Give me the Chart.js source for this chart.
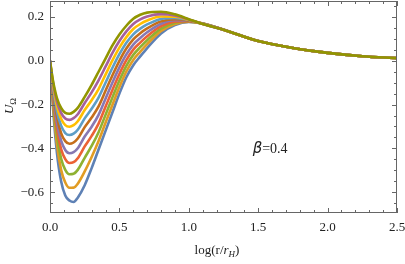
<html>
<script src="https://cdn.jsdelivr.net/npm/chart.js"></script>
<body style="margin:0;">
    <canvas id="myChart" width="405" height="264"></canvas>
</body>
<script>
    // x positions, log(r/r_H)
    var xs = [0, 0.02, 0.05, 0.08, 0.11, 0.14, 0.17, 0.2, 0.25, 0.3, 0.35, 0.4, 0.45, 0.5, 0.55, 0.6, 0.65, 0.7, 0.8, 0.9, 1.0, 1.1, 1.25, 1.5, 1.75, 2.0, 2.25, 2.5];

    // U_Omega curves, deepest well first
    var curve1 = [0, -0.2, -0.42, -0.55, -0.615, -0.638, -0.645, -0.625, -0.568, -0.49, -0.405, -0.32, -0.235, -0.15, -0.075, -0.02, 0.02, 0.058, 0.125, 0.163, 0.177, 0.17, 0.142, 0.09, 0.058, 0.036, 0.021, 0.012];
    var curve2 = [0, -0.182, -0.381, -0.498, -0.556, -0.58, -0.579, -0.561, -0.505, -0.439, -0.366, -0.283, -0.201, -0.12, -0.049, 0.004, 0.041, 0.076, 0.136, 0.168, 0.178, 0.17, 0.142, 0.09, 0.058, 0.036, 0.021, 0.012];
    var curve3 = [0, -0.164, -0.342, -0.446, -0.498, -0.518, -0.516, -0.498, -0.443, -0.389, -0.326, -0.247, -0.167, -0.09, -0.023, 0.027, 0.062, 0.094, 0.147, 0.174, 0.18, 0.17, 0.142, 0.09, 0.058, 0.036, 0.021, 0.012];
    var curve4 = [0, -0.15, -0.31, -0.403, -0.449, -0.467, -0.463, -0.445, -0.391, -0.343, -0.287, -0.21, -0.133, -0.06, 0.003, 0.051, 0.083, 0.112, 0.158, 0.179, 0.181, 0.17, 0.142, 0.09, 0.058, 0.036, 0.021, 0.012];
    var curve5 = [0, -0.137, -0.282, -0.365, -0.407, -0.422, -0.417, -0.399, -0.346, -0.301, -0.247, -0.173, -0.099, -0.03, 0.029, 0.074, 0.104, 0.13, 0.169, 0.185, 0.183, 0.169, 0.142, 0.09, 0.058, 0.036, 0.021, 0.012];
    var curve6 = [0, -0.124, -0.255, -0.33, -0.367, -0.379, -0.373, -0.355, -0.303, -0.259, -0.208, -0.137, -0.066, 0.0, 0.056, 0.098, 0.126, 0.148, 0.18, 0.19, 0.184, 0.169, 0.142, 0.09, 0.058, 0.036, 0.021, 0.012];
    var curve7 = [0, -0.113, -0.231, -0.296, -0.33, -0.339, -0.333, -0.315, -0.263, -0.219, -0.168, -0.1, -0.032, 0.03, 0.082, 0.121, 0.147, 0.166, 0.191, 0.196, 0.186, 0.169, 0.142, 0.09, 0.058, 0.036, 0.021, 0.012];
    var curve8 = [0, -0.102, -0.207, -0.265, -0.294, -0.301, -0.294, -0.276, -0.225, -0.18, -0.129, -0.063, 0.002, 0.06, 0.108, 0.145, 0.168, 0.184, 0.202, 0.201, 0.187, 0.168, 0.142, 0.09, 0.058, 0.036, 0.021, 0.012];
    var curve9 = [0, -0.093, -0.187, -0.238, -0.264, -0.27, -0.262, -0.244, -0.193, -0.144, -0.089, -0.027, 0.036, 0.09, 0.134, 0.168, 0.189, 0.202, 0.213, 0.207, 0.189, 0.168, 0.142, 0.09, 0.058, 0.036, 0.021, 0.012];
    var curve10 = [0, -0.085, -0.17, -0.215, -0.238, -0.242, -0.233, -0.215, -0.165, -0.11, -0.05, 0.01, 0.07, 0.12, 0.16, 0.192, 0.21, 0.22, 0.224, 0.212, 0.19, 0.168, 0.142, 0.09, 0.058, 0.036, 0.021, 0.012];

    var xTicks = [0, 0.5, 1.0, 1.5, 2.0, 2.5];
    var yTicks = [-0.6, -0.4, -0.2, 0.0, 0.2];

    var curves = [curve1, curve2, curve3, curve4, curve5, curve6, curve7, curve8, curve9, curve10];
    var colors = ["#5E81B5", "#E19C24", "#8FB131", "#EB6235", "#8778B3", "#C56E1A", "#5D9EC7", "#FFBF00", "#A5609D", "#929600"];

    var serif = "'Liberation Serif', 'DejaVu Serif', serif";

    var datasets = [];
    for (var i = 0; i < curves.length; i++) {
        datasets.push({
            data: xs.map(function (x, j) { return { x: x, y: curves[i][j] }; }),
            borderColor: colors[i],
            borderWidth: 2.6,
            pointRadius: 0,
            fill: false,
            cubicInterpolationMode: "monotone",
            order: curves.length - i   // last curve on top, like the original
        });
    }

    // chart.js pads for the end labels, we don't want that here
    function noPad(s) {
        s.paddingTop = 0; s.paddingBottom = 0; s.paddingLeft = 0; s.paddingRight = 0;
    }

    // frame with inward ticks, plus the text labels
    var framePlugin = {
        id: "frame",
        afterDatasetsDraw: function (chart) {
            var ctx = chart.ctx, a = chart.chartArea;
            var sx = chart.scales.x, sy = chart.scales.y;
            ctx.save();
            ctx.strokeStyle = "#666";
            ctx.lineWidth = 1;
            ctx.strokeRect(a.left + 0.5, a.top + 0.5, a.right - a.left - 1, a.bottom - a.top - 1);
            ctx.beginPath();
            for (var i = 0; i <= 25; i++) {
                var px = Math.round(sx.getPixelForValue(i / 10)) + 0.5;
                var len = (i % 5 == 0) ? 5 : 3;
                ctx.moveTo(px, a.bottom); ctx.lineTo(px, a.bottom - len);
                ctx.moveTo(px, a.top); ctx.lineTo(px, a.top + len);
            }
            for (var k = -13; k <= 5; k++) {
                var py = Math.round(sy.getPixelForValue(k * 0.05)) + 0.5;
                var l2 = (k % 4 == 0) ? 5 : 3;
                ctx.moveTo(a.left, py); ctx.lineTo(a.left + l2, py);
                ctx.moveTo(a.right, py); ctx.lineTo(a.right - l2, py);
            }
            ctx.stroke();
            ctx.restore();
        },
        afterDraw: function (chart) {
            var ctx = chart.ctx;
            var sx = chart.scales.x, sy = chart.scales.y;
            ctx.save();
            ctx.fillStyle = "#222";
            ctx.textBaseline = "alphabetic";

            // x title: log(r/r_H)
            var parts = [["log(r/", "13px " + serif, 0], ["r", "italic 13px " + serif, 0], ["H", "italic 9px " + serif, 3], [")", "13px " + serif, 0]];
            var w = 0;
            parts.forEach(function (p) { ctx.font = p[1]; w += ctx.measureText(p[0]).width; });
            var cx = 217 - w / 2;
            parts.forEach(function (p) {
                ctx.font = p[1];
                ctx.fillText(p[0], cx, 254 + p[2]);
                cx += ctx.measureText(p[0]).width;
            });

            // y title: U_Omega, rotated
            ctx.translate(13, 106);
            ctx.rotate(-Math.PI / 2);
            ctx.font = "italic 13px " + serif;
            var uw = ctx.measureText("U").width;
            ctx.font = "9px " + serif;
            var ow = ctx.measureText("\u03A9").width;
            var sx0 = -(uw + ow) / 2;
            ctx.font = "italic 13px " + serif;
            ctx.fillText("U", sx0, 0);
            ctx.font = "9px " + serif;
            ctx.fillText("\u03A9", sx0 + uw, 3);
            ctx.setTransform(1, 0, 0, 1, 0, 0);

            // beta label
            var bx = sx.getPixelForValue(1.46), by = sy.getPixelForValue(-0.4) + 5;
            ctx.font = "italic 15px 'DejaVu Sans', sans-serif";
            ctx.fillText("\u03B2", bx, by);
            var bw = ctx.measureText("\u03B2").width;
            ctx.font = "14px " + serif;
            ctx.fillText("=0.4", bx + bw, by);
            ctx.restore();
        }
    };

    new Chart("myChart", {
        type: "line",
        data: { datasets: datasets },
        plugins: [framePlugin],
        options: {
            responsive: false,
            animation: false,
            layout: { padding: { top: 1, right: 8, left: 0, bottom: 0 } },
            plugins: { legend: { display: false }, tooltip: { enabled: false } },
            scales: {
                x: {
                    type: "linear",
                    min: 0, max: 2.5,
                    grid: { display: false, drawTicks: false },
                    border: { display: false },
                    afterBuildTicks: function (s) { s.ticks = xTicks.map(function (v) { return { value: v }; }); },
                    afterFit: function (s) { s.height = 51; noPad(s); },
                    ticks: {
                        padding: 7,
                        maxRotation: 0,
                        color: "#222",
                        font: { family: serif, size: 13 },
                        callback: function (v) { return v.toFixed(1); }
                    }
                },
                y: {
                    min: -0.695, max: 0.273,
                    grid: { display: false, drawTicks: false },
                    border: { display: false },
                    afterBuildTicks: function (s) { s.ticks = yTicks.map(function (v) { return { value: v }; }); },
                    afterFit: function (s) { s.width = 50; noPad(s); },
                    ticks: {
                        padding: 6,
                        color: "#222",
                        font: { family: serif, size: 13 },
                        callback: function (v) { return (v < 0 ? "\u2212" : "") + Math.abs(v).toFixed(1); }
                    }
                }
            }
        }
    });
</script>
</html>
